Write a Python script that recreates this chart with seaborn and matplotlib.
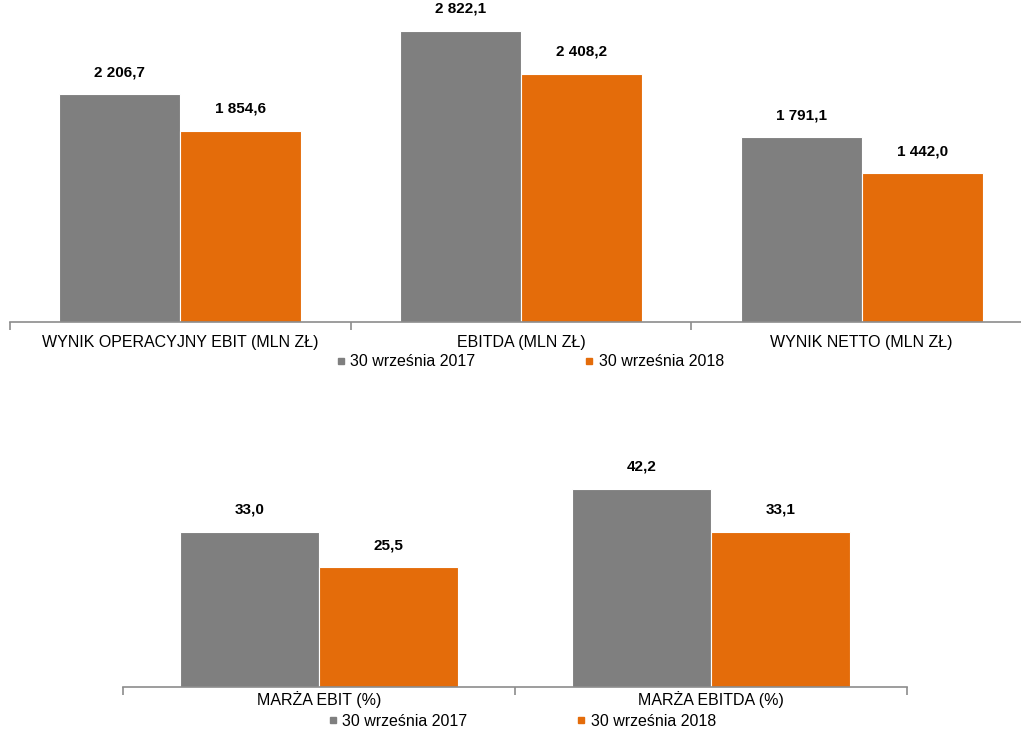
import numpy as np
import pandas as pd
import seaborn as sns
import matplotlib
matplotlib.use("Agg")
import matplotlib.pyplot as plt
from matplotlib.lines import Line2D

sns.set_style("white")
plt.rcParams["font.family"] = ["Liberation Sans", "DejaVu Sans"]
plt.rcParams["text.color"] = "black"
plt.rcParams["xtick.color"] = "black"

# data
okresy = ["30 września 2017", "30 września 2018"]
kat_gora = ["WYNIK OPERACYJNY EBIT (MLN ZŁ)", "EBITDA (MLN ZŁ)", "WYNIK NETTO (MLN ZŁ)"]
gora_2017 = [2206.7, 2822.1, 1791.1]
gora_2018 = [1854.6, 2408.2, 1442.0]
kat_dol = ["MARŻA EBIT (%)", "MARŻA EBITDA (%)"]
dol_2017 = [33.0, 42.2]
dol_2018 = [25.5, 33.1]

kolory = ["#7F7F7F", "#E46C0A"]

def fmt(v):
    s = "{:,.1f}".format(v)
    return s.replace(",", " ").replace(".", ",")

def long_df(kat, a, b):
    return pd.DataFrame({
        "kategoria": kat * 2,
        "okres": [okresy[0]] * len(kat) + [okresy[1]] * len(kat),
        "wartosc": a + b,
    })

W, H = 1021, 731
fig = plt.figure(figsize=(W / 100, H / 100), dpi=100)

def panel(ax, df, kat, ymax, pad):
    sns.barplot(data=df, x="kategoria", y="wartosc", hue="okres", order=kat,
                hue_order=okresy, palette=kolory, width=0.71, ax=ax,
                legend=False, edgecolor="white", linewidth=0.8, saturation=1)
    n = len(kat)
    ax.set_xlim(-0.5, n - 0.5)
    ax.set_ylim(0, ymax)
    ax.set_xlabel("")
    ax.set_ylabel("")
    ax.set_yticks([])
    for s in ["top", "right", "left"]:
        ax.spines[s].set_visible(False)
    ax.spines["bottom"].set_color("#8C8C8C")
    ax.spines["bottom"].set_linewidth(1.2)
    ax.set_xticks(range(n))
    ax.set_xticklabels(kat, fontsize=11.5)
    ax.tick_params(axis="x", which="major", length=0, pad=pad)
    ax.set_xticks(np.arange(-0.5, n, 1.0), minor=True)
    ax.tick_params(axis="x", which="minor", bottom=True, length=6, width=1.2,
                   color="#8C8C8C", direction="out")
    for c in ax.containers:
        ax.bar_label(c, labels=[fmt(v) for v in c.datavalues], padding=11,
                     fontsize=11, fontweight="bold", color="black")

def legenda(x, y):
    h = [Line2D([], [], marker="s", linestyle="", markersize=5, color=k) for k in kolory]
    fig.legend(h, okresy, loc="center", bbox_to_anchor=(x, y), ncol=2,
               frameon=False, fontsize=11.5, handlelength=0.6, handletextpad=0.3,
               columnspacing=6.85)

ax1 = fig.add_axes([10 / W, (H - 322) / H, 1022 / W, 322 / H])
panel(ax1, long_df(kat_gora, gora_2017, gora_2018), kat_gora, 3123, 9)
legenda(530 / W, (H - 362) / H)

ax2 = fig.add_axes([123 / W, (H - 687) / H, 784 / W, 250 / H])
panel(ax2, long_df(kat_dol, dol_2017, dol_2018), kat_dol, 250 / 4.69, 3)
legenda(522 / W, (H - 721) / H)

fig.savefig("out.png", dpi=100)
